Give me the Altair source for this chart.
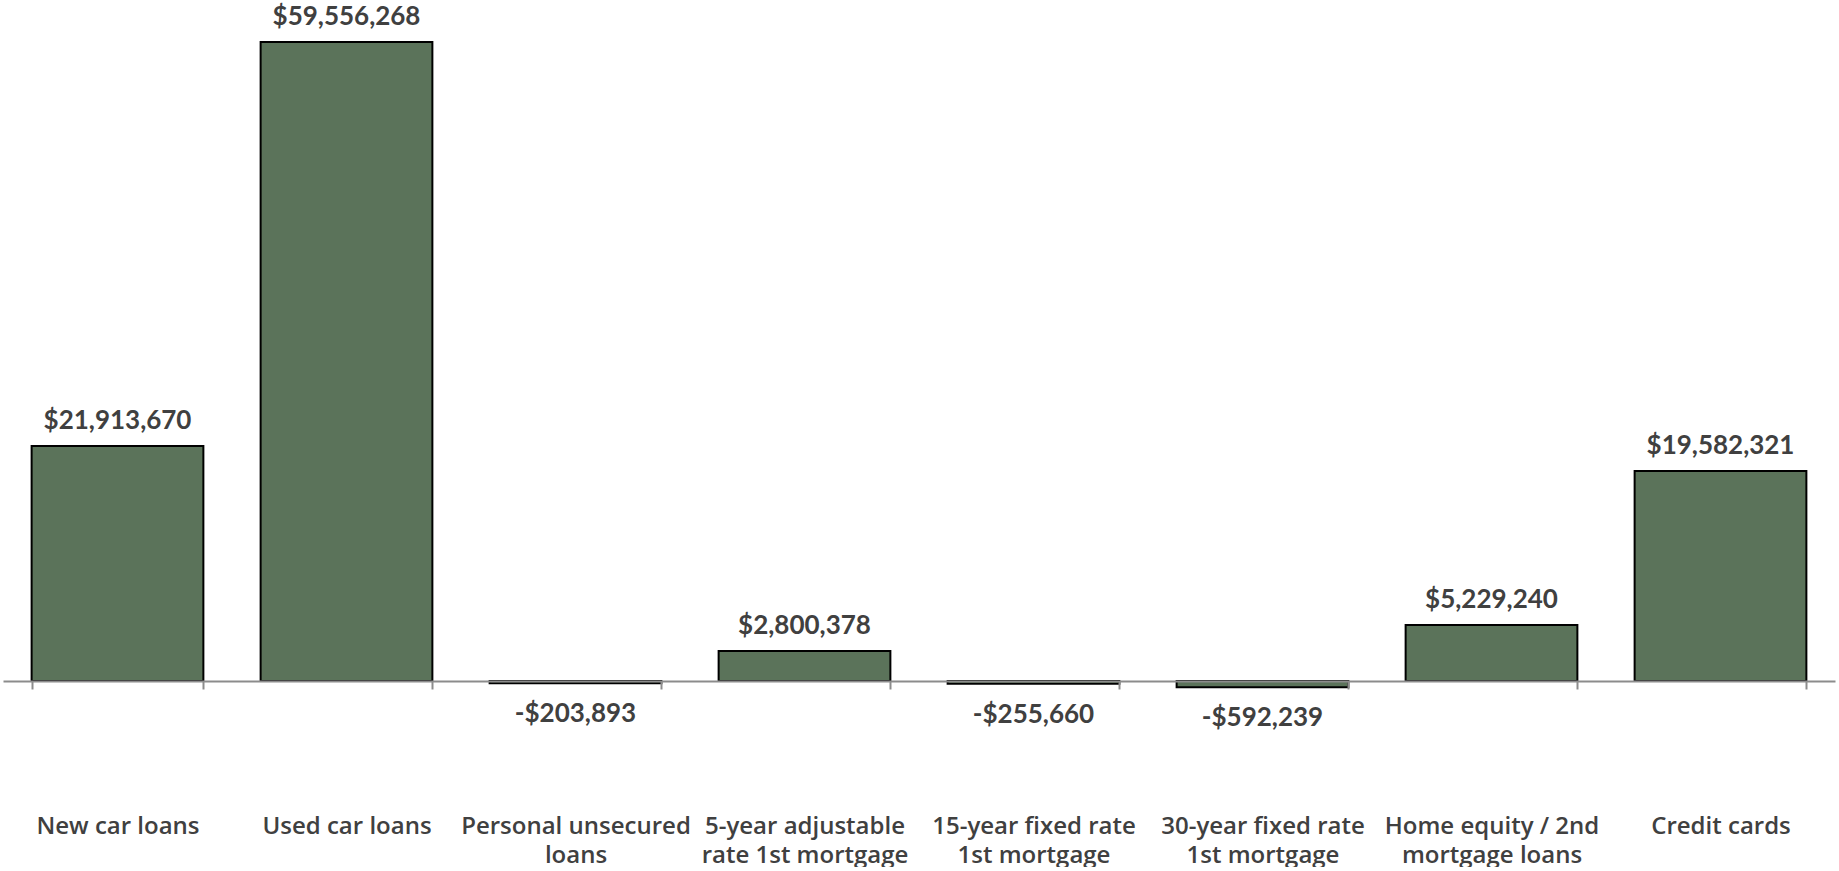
import altair as alt
import pandas as pd

categories = [
    "New car loans",
    "Used car loans",
    "Personal unsecured\nloans",
    "5-year adjustable\nrate 1st mortgage",
    "15-year fixed rate\n1st mortgage",
    "30-year fixed rate\n1st mortgage",
    "Home equity / 2nd\nmortgage loans",
    "Credit cards",
]
values = [21913670, 59556268, -203893, 2800378, -255660, -592239, 5229240, 19582321]

df = pd.DataFrame({"category": categories, "value": values})

x_enc = alt.X(
    "category:N",
    sort=None,
    scale=alt.Scale(paddingInner=0.25, paddingOuter=0.125),
    axis=alt.Axis(
        title=None,
        orient="bottom",
        domain=True,
        domainColor="#8c8c8c",
        domainWidth=2,
        ticks=True,
        tickBand="extent",
        tickSize=8,
        tickWidth=2,
        tickColor="#8c8c8c",
        labelAngle=0,
        labelFont="Open Sans",
        labelFontWeight=600,
        labelFontSize=24,
        labelColor="#404040",
        labelPadding=125,
        labelLineHeight=29,
        labelBaseline="top",
        labelLimit=300,
        labelExpr="split(datum.label, '\\n')",
        zindex=1,
    ),
)
y_scale = alt.Scale(domain=[0, 63470000], nice=False, zero=False)

base = alt.Chart(df).transform_calculate(
    label="(datum.value < 0 ? '-' : '') + '$' + format(abs(datum.value), ',.0f')"
)

bars = base.mark_bar(fill="#5b735a", stroke="#000000", strokeWidth=2).encode(
    x=x_enc,
    y=alt.Y("value:Q", scale=y_scale, axis=None),
)

pos_labels = base.transform_filter("datum.value >= 0").mark_text(
    baseline="bottom", dy=-12, font="Lato", fontWeight="bold", fontSize=26, color="#404040"
).encode(x=alt.X("category:N", sort=None), y=alt.Y("value:Q"), text="label:N")

neg_labels = base.transform_filter("datum.value < 0").mark_text(
    baseline="top", dy=18, font="Lato", fontWeight="bold", fontSize=26, color="#404040"
).encode(x=alt.X("category:N", sort=None), y=alt.Y("value:Q"), text="label:N")

chart = (
    alt.layer(bars, pos_labels, neg_labels)
    .properties(
        width=1832,
        height=681,
        padding={"left": 3, "top": 0, "right": 4, "bottom": 0},
        background="#ffffff",
    )
    .configure_view(strokeWidth=0)
)

chart.save("out.html", embed_options={"renderer": "svg", "actions": False})
